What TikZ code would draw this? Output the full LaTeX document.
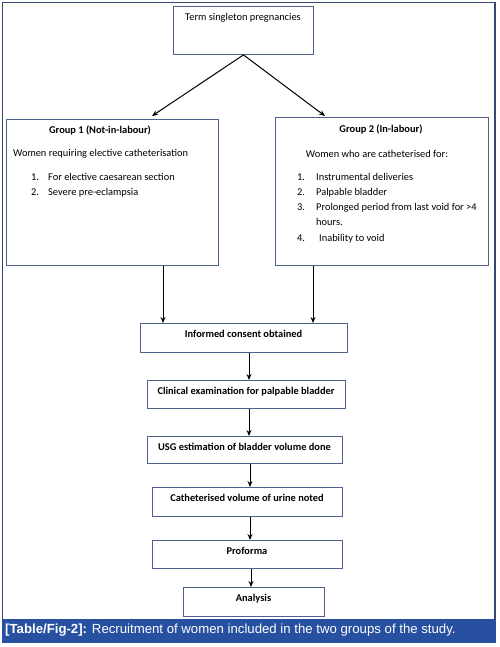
\documentclass[tikz,border=0pt]{standalone}
\usepackage{fontspec}
\setmainfont{Carlito}
\newfontfamily\capfont{Liberation Sans}
\usetikzlibrary{arrows.meta}
\definecolor{framecol}{RGB}{52,72,112}
\definecolor{boxcol}{RGB}{80,96,140}
\definecolor{barcol}{RGB}{40,80,160}
\tikzset{
  box/.style={draw=boxcol, line width=0.9pt, rectangle, inner sep=0pt, anchor=north west},
  txt/.style={inner sep=0pt, font=\fontsize{10.4}{12}\selectfont},
  btxt/.style={inner sep=0pt, font=\fontsize{10.4}{12}\selectfont\bfseries},
  arr/.style={-{Stealth[length=6pt,width=5pt]}, line width=1pt, black},
  lin/.style={line width=1pt, black}
}
\begin{document}
\begin{tikzpicture}[x=1pt,y=-1pt]
\useasboundingbox (0,0) rectangle (499,647);
% outer frame
\draw[framecol, line width=1.2pt] (2.5,643) -- (2.5,2.5) -- (495,2.5) -- (495,643);
% caption bar
\fill[barcol] (2,619) rectangle (496,643);
\node[inner sep=0pt, anchor=mid west, text=white, font=\capfont\fontsize{13.2}{15}\selectfont] (cap) at (5,631.5) {\textbf{[Table/Fig-2]:} Recruitment of women included in the two groups of the study.};

% top box
\node[box, minimum width=140pt, minimum height=48pt] (top) at (173,6) {};
\node[txt, anchor=mid] (toptxt) at (243,18) {Term singleton pregnancies};

% group 1
\node[box, minimum width=212pt, minimum height=146pt] (g1) at (6,119) {};
\node[btxt, anchor=mid] (g1t) at (100,131.5) {Group 1 (Not-in-labour)};
\node[txt, anchor=mid west] (g1a) at (13,154.5) {Women requiring elective catheterisation};
\node[txt, anchor=mid west] (g1n1) at (31,178.5) {1.};
\node[txt, anchor=mid west] (g1i1) at (48,178.5) {For elective caesarean section};
\node[txt, anchor=mid west] (g1n2) at (31,193.5) {2.};
\node[txt, anchor=mid west] (g1i2) at (48,193.5) {Severe pre-eclampsia};

% group 2
\node[box, minimum width=213pt, minimum height=148pt] (g2) at (275,117) {};
\node[btxt, anchor=mid] (g2t) at (381,130.5) {Group 2 (In-labour)};
\node[txt, anchor=mid] (g2a) at (377,155.5) {Women who are catheterised for:};
\node[txt, anchor=mid west] (g2n1) at (297,178.5) {1.};
\node[txt, anchor=mid west] (g2i1) at (316,178.5) {Instrumental deliveries};
\node[txt, anchor=mid west] (g2n2) at (297,193.5) {2.};
\node[txt, anchor=mid west] (g2i2) at (316,193.5) {Palpable bladder};
\node[txt, anchor=mid west] (g2n3) at (297,208.5) {3.};
\node[txt, anchor=mid west] (g2i3) at (316,208.5) {Prolonged period from last void for >4};
\node[txt, anchor=mid west] (g2i3b) at (316,223.5) {hours.};
\node[txt, anchor=mid west] (g2n4) at (297,239.5) {4.};
\node[txt, anchor=mid west] (g2i4) at (319,239.5) {Inability to void};

% flow boxes
\node[box, minimum width=207pt, minimum height=29pt] (c1) at (140,323) {};
\node[btxt, anchor=mid] (c1t) at (243.5,335) {Informed consent obtained};
\node[box, minimum width=198pt, minimum height=28pt] (c2) at (147,380) {};
\node[btxt, anchor=mid] (c2t) at (246,392) {Clinical examination for palpable bladder};
\node[box, minimum width=195pt, minimum height=27pt] (c3) at (147,436) {};
\node[btxt, anchor=mid] (c3t) at (244.5,448) {USG estimation of bladder volume done};
\node[box, minimum width=190pt, minimum height=29pt] (c4) at (152,487) {};
\node[btxt, anchor=mid] (c4t) at (247,499) {Catheterised volume of urine noted};
\node[box, minimum width=190pt, minimum height=28pt] (c5) at (152,540) {};
\node[btxt, anchor=mid] (c5t) at (247,552) {Proforma};
\node[box, minimum width=141pt, minimum height=29pt] (c6) at (183,587) {};
\node[btxt, anchor=mid] (c6t) at (253.5,599) {Analysis};

% connectors
\coordinate (t1) at (152,116);
\coordinate (t2) at (325,116);
\draw[arr] (top.south) -- (t1);
\draw[arr] (top.south) -- (t2);
\draw[arr] (g1.south west) ++(157,0) coordinate (g1b) -- (g1b |- c1.north);
\draw[arr] (g2.south west) ++(38,0) coordinate (g2b) -- (g2b |- c1.north);
\coordinate (a1) at (249,0);
\draw[arr] (a1 |- c1.south) -- (a1 |- c2.north);
\draw[arr] (a1 |- c2.south) -- (a1 |- c3.north);
\coordinate (a2) at (250,0);
\draw[arr] (a2 |- c3.south) -- (a2 |- c4.north);
\draw[arr] (a2 |- c4.south) -- (a2 |- c5.north);
\coordinate (a3) at (251,0);
\draw[arr] (a3 |- c5.south) -- (a3 |- c6.north);
\end{tikzpicture}
\end{document}
